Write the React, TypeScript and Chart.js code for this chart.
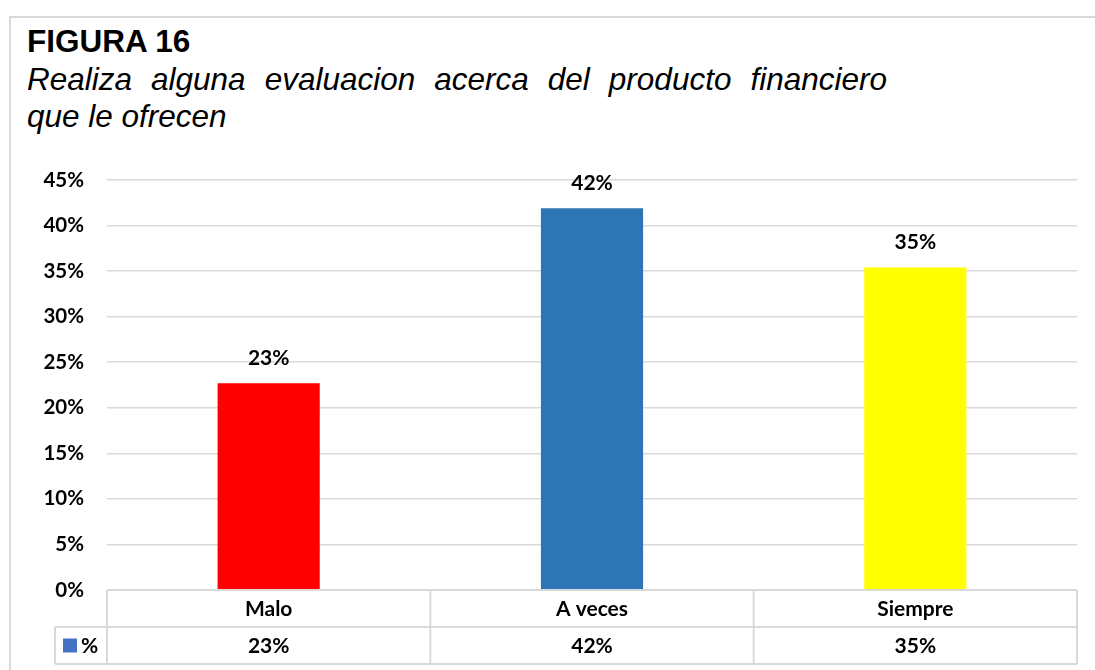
import React, { useEffect, useRef } from "react";
import { Chart, registerables } from "chart.js";

Chart.register(...registerables);

const categories: string[] = ["Malo", "A veces", "Siempre"];
const values: number[] = [22.7, 41.9, 35.4];
const barColors: string[] = ["#FF0000", "#2E75B6", "#FFFF00"];
const seriesName = "%";
const legendColor = "#4472C4";
const titleText = "FIGURA 16";
const subtitleLine1 = "Realiza alguna evaluacion acerca del producto financiero";
const subtitleLine2 = "que le ofrecen";

const FAMILY = "Lato, 'Liberation Sans', sans-serif";
const LABEL_SIZE = 21;
const TICK_FONT = { family: FAMILY, size: 20.5, weight: "bold" as const };
const GRID = "#D9D9D9";

const fmt = (v: number) => Math.round(v) + "%";

const dataLabelPlugin = {
  id: "dataLabels",
  afterDatasetsDraw(chart: any) {
    const ctx = chart.ctx;
    const meta = chart.getDatasetMeta(0);
    ctx.save();
    ctx.font = `bold ${LABEL_SIZE}px ${FAMILY}`;
    ctx.fillStyle = "#000";
    ctx.textAlign = "center";
    ctx.textBaseline = "middle";
    meta.data.forEach((el: any, i: number) => {
      ctx.fillText(fmt(values[i]), el.x, el.y - 25);
    });
    ctx.restore();
  },
};

const tablePlugin = {
  id: "dataTable",
  afterDraw(chart: any) {
    const ctx = chart.ctx;
    const area = chart.chartArea;
    const left = area.left;
    const right = area.right;
    const top = area.bottom;
    const mid = top + 37;
    const bottom = top + 74;
    const legendLeft = 55;
    const n = categories.length;
    const colW = (right - left) / n;
    ctx.save();
    ctx.strokeStyle = GRID;
    ctx.lineWidth = 2;
    ctx.beginPath();
    ctx.moveTo(left, top);
    ctx.lineTo(right, top);
    ctx.moveTo(legendLeft, mid);
    ctx.lineTo(right, mid);
    ctx.moveTo(legendLeft, bottom);
    ctx.lineTo(right, bottom);
    for (let i = 0; i <= n; i++) {
      const x = left + i * colW;
      ctx.moveTo(x, top);
      ctx.lineTo(x, bottom);
    }
    ctx.moveTo(legendLeft, mid);
    ctx.lineTo(legendLeft, bottom);
    ctx.stroke();

    ctx.font = `bold ${LABEL_SIZE}px ${FAMILY}`;
    ctx.fillStyle = "#000";
    ctx.textAlign = "center";
    ctx.textBaseline = "middle";
    categories.forEach((c, i) => {
      const cx = left + (i + 0.5) * colW;
      ctx.fillText(c, cx, (top + mid) / 2 + 1);
      ctx.fillText(fmt(values[i]), cx, (mid + bottom) / 2 + 1);
    });
    ctx.fillStyle = legendColor;
    ctx.fillRect(63, (mid + bottom) / 2 - 7, 14, 14);
    ctx.fillStyle = "#000";
    ctx.textAlign = "left";
    ctx.fillText(seriesName, 81, (mid + bottom) / 2 + 1);
    ctx.restore();
  },
};

export default function App() {
  const canvasRef = useRef<HTMLCanvasElement | null>(null);

  useEffect(() => {
    if (!canvasRef.current) return;
    const chart = new Chart(canvasRef.current, {
      type: "bar",
      data: {
        labels: categories,
        datasets: [
          {
            label: seriesName,
            data: values,
            backgroundColor: barColors,
            borderWidth: 0,
            barPercentage: 0.316,
            categoryPercentage: 1,
          },
        ],
      },
      options: {
        animation: false,
        responsive: true,
        maintainAspectRatio: false,
        layout: { padding: { top: 180, right: 18, bottom: 80, left: 0 } },
        plugins: {
          legend: { display: false },
          title: { display: false },
          tooltip: { enabled: false },
        },
        scales: {
          x: { display: false },
          y: {
            min: 0,
            max: 45,
            ticks: {
              stepSize: 5,
              callback: (v: any) => v + "%",
              font: TICK_FONT,
              color: "#000",
              padding: 23,
            },
            grid: { color: GRID, lineWidth: 1.5, drawTicks: false },
            border: { display: false },
            afterFit: (s: any) => {
              s.width = 107;
            },
          },
        },
      },
      plugins: [dataLabelPlugin, tablePlugin],
    });
    return () => chart.destroy();
  }, []);

  return (
    <div
      style={{
        position: "fixed",
        left: 0,
        top: 0,
        width: 1095,
        height: 670,
        overflow: "hidden",
        background: "#fff",
      }}
    >
      <div
        style={{
          position: "absolute",
          left: 9,
          top: 16,
          width: 1200,
          height: 800,
          border: "2px solid #D9D9D9",
          boxSizing: "border-box",
        }}
      />
      <div
        style={{
          position: "absolute",
          left: 27,
          top: 23,
          fontFamily: "'Liberation Sans', Arial, sans-serif",
          fontSize: 31.5,
          lineHeight: "37.5px",
          color: "#000",
        }}
      >
        <div style={{ fontWeight: "bold" }}>{titleText}</div>
        <div
          style={{
            fontStyle: "italic",
            width: 860,
            textAlign: "justify",
            textAlignLast: "justify",
          }}
        >
          {subtitleLine1}
        </div>
        <div style={{ fontStyle: "italic" }}>{subtitleLine2}</div>
      </div>
      <div style={{ position: "absolute", left: 0, top: 0, width: 1095, height: 670 }}>
        <canvas ref={canvasRef} />
      </div>
    </div>
  );
}
